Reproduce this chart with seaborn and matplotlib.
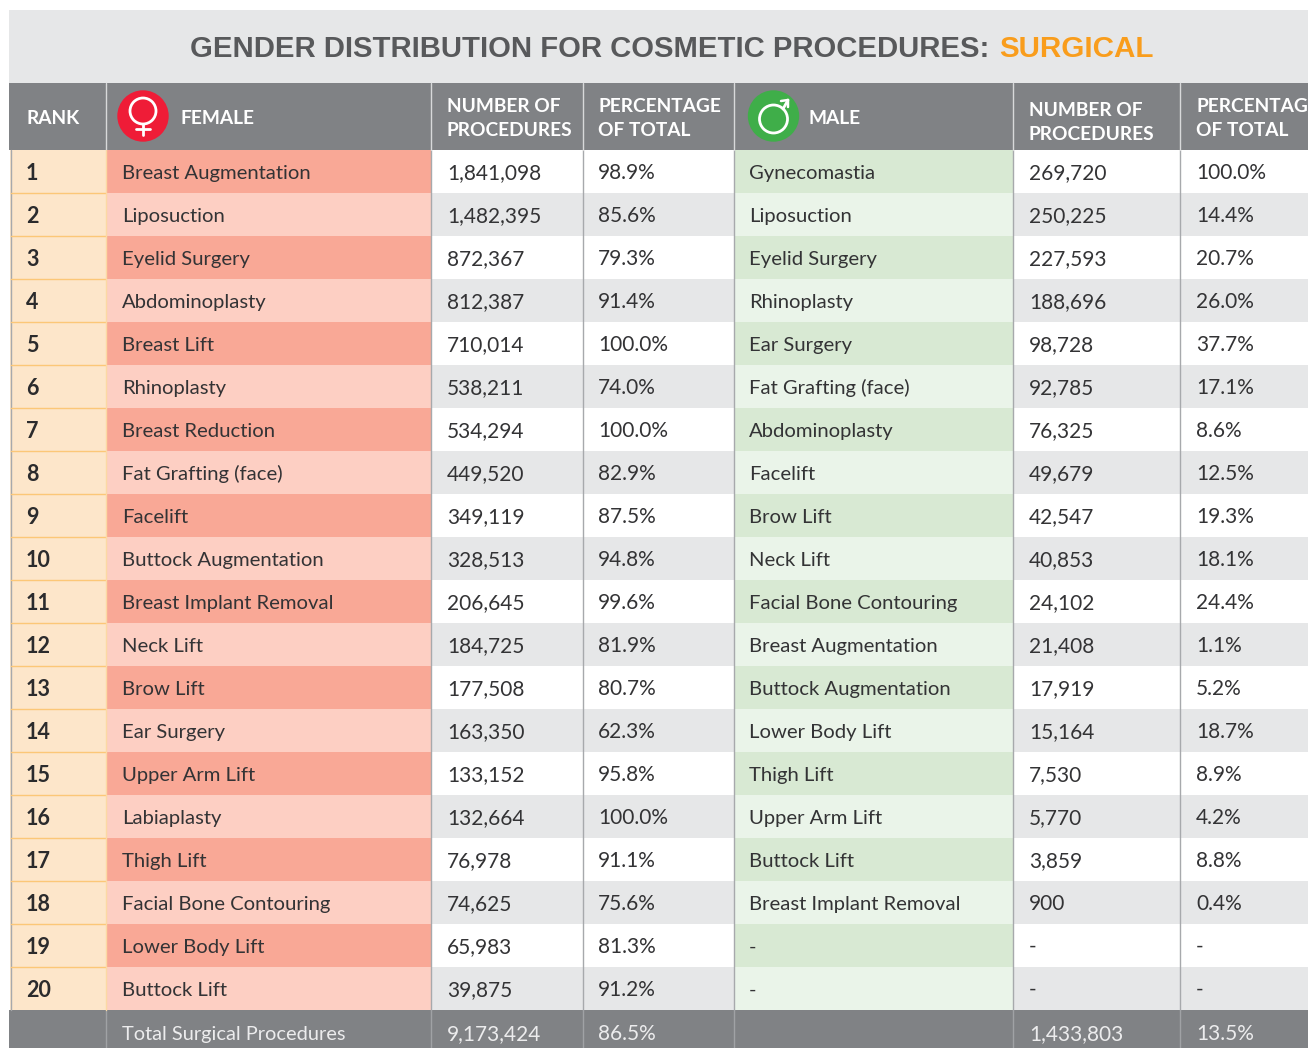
import numpy as np
import matplotlib
matplotlib.use("Agg")
import matplotlib.pyplot as plt
from matplotlib.colors import ListedColormap
from matplotlib.patches import Circle, Rectangle
import seaborn as sns

W, H = 1308, 1048

ranks = [str(i) for i in range(1, 21)]
female_names = ["Breast Augmentation", "Liposuction", "Eyelid Surgery", "Abdominoplasty", "Breast Lift",
                "Rhinoplasty", "Breast Reduction", "Fat Grafting (face)", "Facelift", "Buttock Augmentation",
                "Breast Implant Removal", "Neck Lift", "Brow Lift", "Ear Surgery", "Upper Arm Lift",
                "Labiaplasty", "Thigh Lift", "Facial Bone Contouring", "Lower Body Lift", "Buttock Lift"]
female_counts = ["1,841,098", "1,482,395", "872,367", "812,387", "710,014", "538,211", "534,294", "449,520",
                 "349,119", "328,513", "206,645", "184,725", "177,508", "163,350", "133,152", "132,664",
                 "76,978", "74,625", "65,983", "39,875"]
female_pct = ["98.9%", "85.6%", "79.3%", "91.4%", "100.0%", "74.0%", "100.0%", "82.9%", "87.5%", "94.8%",
              "99.6%", "81.9%", "80.7%", "62.3%", "95.8%", "100.0%", "91.1%", "75.6%", "81.3%", "91.2%"]
male_names = ["Gynecomastia", "Liposuction", "Eyelid Surgery", "Rhinoplasty", "Ear Surgery",
              "Fat Grafting (face)", "Abdominoplasty", "Facelift", "Brow Lift", "Neck Lift",
              "Facial Bone Contouring", "Breast Augmentation", "Buttock Augmentation", "Lower Body Lift",
              "Thigh Lift", "Upper Arm Lift", "Buttock Lift", "Breast Implant Removal", "-", "-"]
male_counts = ["269,720", "250,225", "227,593", "188,696", "98,728", "92,785", "76,325", "49,679", "42,547",
               "40,853", "24,102", "21,408", "17,919", "15,164", "7,530", "5,770", "3,859", "900", "-", "-"]
male_pct = ["100.0%", "14.4%", "20.7%", "26.0%", "37.7%", "17.1%", "8.6%", "12.5%", "19.3%", "18.1%",
            "24.4%", "1.1%", "5.2%", "18.7%", "8.9%", "4.2%", "8.8%", "0.4%", "-", "-"]
totals = ["Total Surgical Procedures", "9,173,424", "86.5%", "1,433,803", "13.5%"]

# column edges in pixels
edges = [10, 106, 431, 583, 734, 1013, 1180, 1308]
row_top, row_h = 150, 43
row_bottom = row_top + 20 * row_h

GREY = "#808285"
TEXT = "#333335"

sns.set_theme(style="white")
plt.rcParams["font.family"] = ["Lato", "DejaVu Sans"]

fig = plt.figure(figsize=(W / 100, H / 100), dpi=100, facecolor="white")

# row banding per column, one heatmap each
parity = np.arange(20).reshape(-1, 1) % 2
col_colors = [("#fde6ca", "#fde6ca"), ("#f9a896", "#fdcfc3"), ("#ffffff", "#e6e7e8"), ("#ffffff", "#e6e7e8"),
              ("#d8e9d3", "#eaf4e9"), ("#ffffff", "#e6e7e8"), ("#ffffff", "#e6e7e8")]
for i, colors in enumerate(col_colors):
    x0, x1 = edges[i], edges[i + 1]
    hax = fig.add_axes([x0 / W, 1 - row_bottom / H, (x1 - x0) / W, (row_bottom - row_top) / H])
    sns.heatmap(parity, ax=hax, cmap=ListedColormap(colors), vmin=0, vmax=1, cbar=False,
                xticklabels=False, yticklabels=False, linewidths=0)

# overlay in pixel coordinates for bands, rules and text
ax = fig.add_axes([0, 0, 1, 1], zorder=5)
ax.set_xlim(0, W)
ax.set_ylim(H, 0)
ax.axis("off")
ax.patch.set_alpha(0)

ax.add_patch(Rectangle((9, 10), W - 9, 73, fc="#e6e7e8", ec="none"))
ax.add_patch(Rectangle((9, 83), W - 9, 67, fc=GREY, ec="none"))
ax.add_patch(Rectangle((9, row_bottom), W - 9, H - row_bottom, fc=GREY, ec="none"))

ax.text(190, 57, "GENDER DISTRIBUTION FOR COSMETIC PROCEDURES:", family="Liberation Sans", weight="bold",
        fontsize=21.1, color="#58595b", va="baseline")
ax.text(999, 57, "SURGICAL", family="Liberation Sans", weight="bold", fontsize=21.3, color="#f99d1c",
        va="baseline")

# rules
for x in edges[2:-1]:
    ax.plot([x, x], [row_top, row_bottom], color="#a7a9ac", lw=1)
    ax.plot([x, x], [83, row_top], color="#d8d9da", lw=1)
    ax.plot([x, x], [row_bottom, H], color="#a0a2a5", lw=1)
ax.plot([106, 106], [83, row_top], color="#d8d9da", lw=1)
ax.plot([106, 106], [row_bottom, H], color="#a0a2a5", lw=1)
ax.plot([10.5, 10.5], [row_top, row_bottom], color="#a7a9ac", lw=1)
for i in range(1, 20):
    y = row_top + i * row_h
    ax.plot([11, 106], [y, y], color="#fcc777", lw=1)
ax.plot([106, 106], [row_top, row_bottom], color="#fcd9a4", lw=1)

# header labels
hdr = dict(color="white", weight="bold", fontsize=13.8, va="baseline")
ax.text(26, 124, "RANK", **hdr)
ax.text(180, 124, "FEMALE", **hdr)
ax.text(808, 124, "MALE", **hdr)
ax.text(447, 112, "NUMBER OF", **hdr)
ax.text(447, 136, "PROCEDURES", **hdr)
ax.text(598, 112, "PERCENTAGE", **hdr)
ax.text(598, 136, "OF TOTAL", **hdr)
ax.text(1029, 116, "NUMBER OF", **hdr)
ax.text(1029, 140, "PROCEDURES", **hdr)
ax.text(1196, 112, "PERCENTAGE", **hdr)
ax.text(1196, 136, "OF TOTAL", **hdr)

# gender icons
ax.add_patch(Circle((143, 116), 25.7, fc="#ef1c37", ec="none"))
ax.add_patch(Circle((143, 111), 13, fc="none", ec="white", lw=2))
ax.plot([143, 143], [124, 135], color="white", lw=2)
ax.plot([136, 150], [129, 129], color="white", lw=2)
ax.add_patch(Circle((773.5, 116), 25.7, fc="#3fae49", ec="none"))
ax.add_patch(Circle((773.5, 119), 14, fc="none", ec="white", lw=2))
ax.plot([783, 788], [109, 100], color="white", lw=2)
ax.plot([781, 788, 788], [101, 100, 107], color="white", lw=1.8)

# body text
columns = [(122, female_names, 14.6), (447, female_counts, 15), (598, female_pct, 15),
           (749, male_names, 14.6), (1029, male_counts, 15), (1196, male_pct, 15)]
for x, values, size in columns:
    for i, val in enumerate(values):
        ax.text(x, row_top + row_h * i + 29, val, fontsize=size, color=TEXT, va="baseline")
for i, r in enumerate(ranks):
    ax.text(26, row_top + row_h * i + 30, r, fontsize=15.5, weight="bold", color="#2b2b2d", va="baseline")

for x, val, size in zip([122, 447, 598, 1029, 1196], totals, [14.4, 15, 15, 15, 15]):
    ax.text(x, 1040, val, fontsize=size, color="#ececed", va="baseline")

plt.savefig("out.png", dpi=100)
